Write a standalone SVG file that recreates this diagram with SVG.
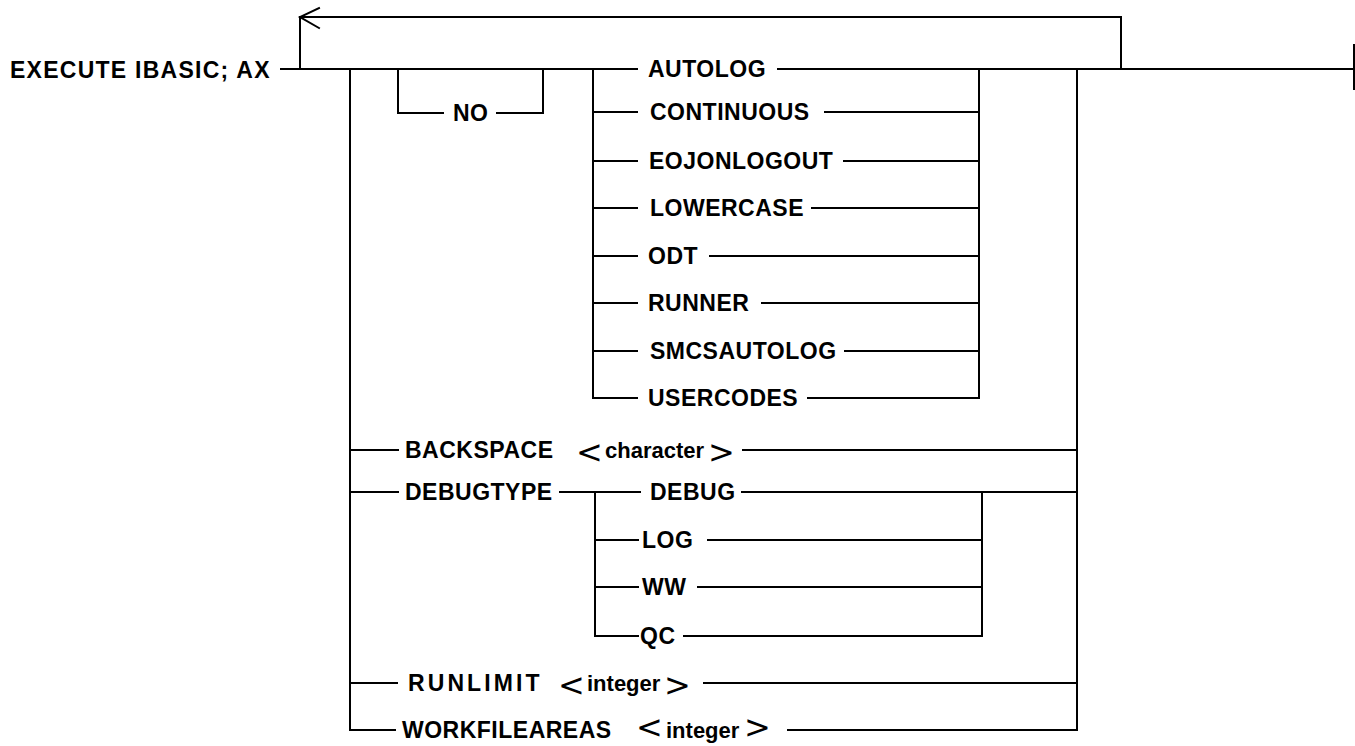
<svg xmlns="http://www.w3.org/2000/svg" width="1355" height="746" viewBox="0 0 1355 746">
<style>
.ln{stroke:#000;stroke-width:2;fill:none;stroke-linecap:square}
.t{font-family:"Liberation Sans",Arial,sans-serif;font-weight:bold;font-size:23px;letter-spacing:0.5px;fill:#000}
.s{font-family:"Liberation Sans",Arial,sans-serif;font-weight:bold;font-size:22px;fill:#000}
.b{font-family:"DejaVu Sans",sans-serif;font-weight:normal;font-size:32px;fill:#000}
</style>
<rect width="1355" height="746" fill="#fff"/>
<g id="connectors">
<path class="ln" d="M281,69 H637 M778,69 H1354"/>
<path class="ln" d="M1121,69 V17 H300 V69"/>
<path class="ln" d="M319,8 L300,17 L319,28" stroke-linecap="round"/>
<path class="ln" d="M1354,45 V89" stroke-width="2.5"/>
<path class="ln" d="M398,69 V113 H443 M497,113 H543 V69"/>
<path class="ln" d="M593,69 V398 M979,69 V398"/>
<path class="ln" d="M593,112 H637 M825,112 H979"/>
<path class="ln" d="M593,161 H637 M844,161 H979"/>
<path class="ln" d="M593,208 H637 M812,208 H979"/>
<path class="ln" d="M593,256 H637 M710,256 H979"/>
<path class="ln" d="M593,303 H637 M762,303 H979"/>
<path class="ln" d="M593,351 H637 M845,351 H979"/>
<path class="ln" d="M593,398 H637 M808,398 H979"/>
<path class="ln" d="M350,69 V730 H395"/>
<path class="ln" d="M1077,69 V730"/>
<path class="ln" d="M350,450 H398 M743,450 H1077"/>
<path class="ln" d="M350,492 H398 M560,492 H640 M742,492 H1077"/>
<path class="ln" d="M595,492 V636 M982,492 V636"/>
<path class="ln" d="M595,540 H638 M708,540 H982"/>
<path class="ln" d="M595,587 H638 M698,587 H982"/>
<path class="ln" d="M595,636 H638 M684,636 H982"/>
<path class="ln" d="M350,683 H397 M704,683 H1077"/>
<path class="ln" d="M788,730 H1077"/>
</g>
<g id="start"><text class="t" x="10" y="78" textLength="260" lengthAdjust="spacing">EXECUTE IBASIC; AX</text></g>
<g id="no"><text class="t" x="453" y="121">NO</text></g>
<g id="autolog"><text class="t" x="648" y="77">AUTOLOG</text></g>
<g id="continuous"><text class="t" x="650" y="120">CONTINUOUS</text></g>
<g id="eojonlogout"><text class="t" x="649" y="169">EOJONLOGOUT</text></g>
<g id="lowercase"><text class="t" x="650" y="216">LOWERCASE</text></g>
<g id="odt"><text class="t" x="648" y="264">ODT</text></g>
<g id="runner"><text class="t" x="648" y="311">RUNNER</text></g>
<g id="smcsautolog"><text class="t" x="650" y="359">SMCSAUTOLOG</text></g>
<g id="usercodes"><text class="t" x="648" y="406">USERCODES</text></g>
<g id="backspace"><text class="t" x="405" y="458">BACKSPACE</text><text class="b" x="576" y="463">&lt;</text><text class="s" x="605" y="458">character</text><text class="b" x="708" y="463">&gt;</text></g>
<g id="debugtype"><text class="t" x="405" y="500">DEBUGTYPE</text></g>
<g id="debug"><text class="t" x="650" y="500">DEBUG</text></g>
<g id="log"><text class="t" x="642" y="548">LOG</text></g>
<g id="ww"><text class="t" x="642" y="595">WW</text></g>
<g id="qc"><text class="t" x="640" y="644">QC</text></g>
<g id="runlimit"><text class="t" x="408" y="691" textLength="132" lengthAdjust="spacing">RUNLIMIT</text><text class="b" x="558" y="696">&lt;</text><text class="s" x="587" y="691">integer</text><text class="b" x="664" y="696">&gt;</text></g>
<g id="workfileareas"><text class="t" x="402" y="738">WORKFILEAREAS</text><text class="b" x="636" y="738">&lt;</text><text class="s" x="666" y="738">integer</text><text class="b" x="744" y="738">&gt;</text></g>
</svg>
